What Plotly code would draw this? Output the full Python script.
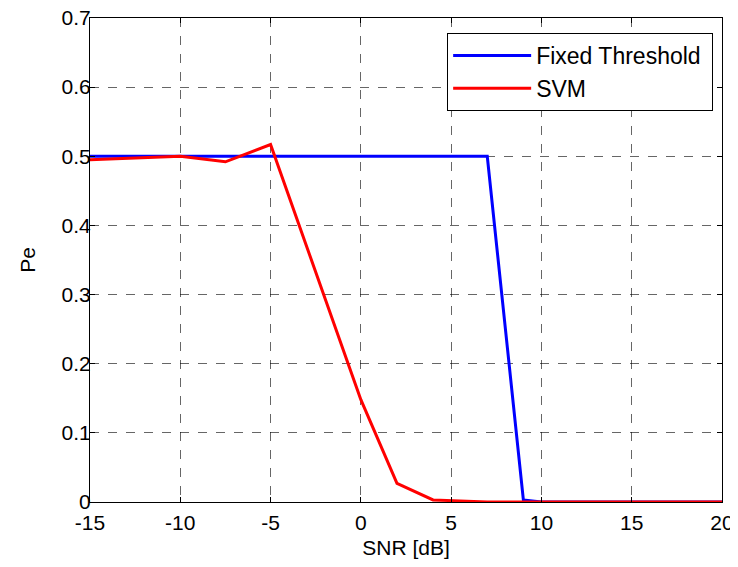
import plotly.graph_objects as go

snr_fixed = [-15, -10, -5, 0, 5, 7, 9, 10, 15, 20]
pe_fixed = [0.5, 0.5, 0.5, 0.5, 0.5, 0.5, 0.003, 0.0, 0.0, 0.0]

snr_svm = [-15, -10, -7.5, -5, 0, 2, 4, 7, 10, 15, 20]
pe_svm = [0.495, 0.5, 0.492, 0.517, 0.148, 0.027, 0.003, 0.0, 0.0, 0.0, 0.0]

x_ticks = [-15, -10, -5, 0, 5, 10, 15, 20]
y_ticks = [0, 0.1, 0.2, 0.3, 0.4, 0.5, 0.6, 0.7]

fig = go.Figure()
fig.add_trace(go.Scatter(x=snr_fixed, y=pe_fixed, mode="lines", name="Fixed Threshold\u00a0",
                         line=dict(color="#0000ff", width=3)))
fig.add_trace(go.Scatter(x=snr_svm, y=pe_svm, mode="lines", name="SVM",
                         line=dict(color="#ff0000", width=3)))

axis_common = dict(
    showline=True, linecolor="black", linewidth=1, mirror="ticks",
    ticks="inside", ticklen=5, tickcolor="black",
    showgrid=True, gridcolor="rgba(0,0,0,0.6)", griddash="dash", gridwidth=1,
    zeroline=False, tickfont=dict(size=21, color="black"), automargin=False,
    ticklabeloverflow="allow",
)

fig.update_xaxes(range=[-15, 20], tickvals=x_ticks, ticktext=[str(v) for v in x_ticks],
                 title=dict(text="SNR [dB]", font=dict(size=21, color="black"), standoff=8),
                 ticklabelstandoff=2,
                 **axis_common)
fig.update_yaxes(range=[0, 0.7], tickvals=y_ticks, ticktext=["0"] + [f"{v:.1f}" for v in y_ticks[1:]],
                 title=dict(text="Pe", font=dict(size=21, color="black"), standoff=20),
                 ticklabelstandoff=-6,
                 **axis_common)

fig.update_layout(
    width=730, height=551,
    margin=dict(l=82, r=16, t=10, b=57),
    paper_bgcolor="white", plot_bgcolor="white",
    font=dict(family="Liberation Sans, Arial, sans-serif", size=21, color="black"),
    legend=dict(x=0.986, y=0.969, xanchor="right", yanchor="top",
                bgcolor="white", bordercolor="black", borderwidth=1,
                font=dict(size=23), itemwidth=78, tracegroupgap=0),
    showlegend=True,
)

fig.write_html("out.html")
